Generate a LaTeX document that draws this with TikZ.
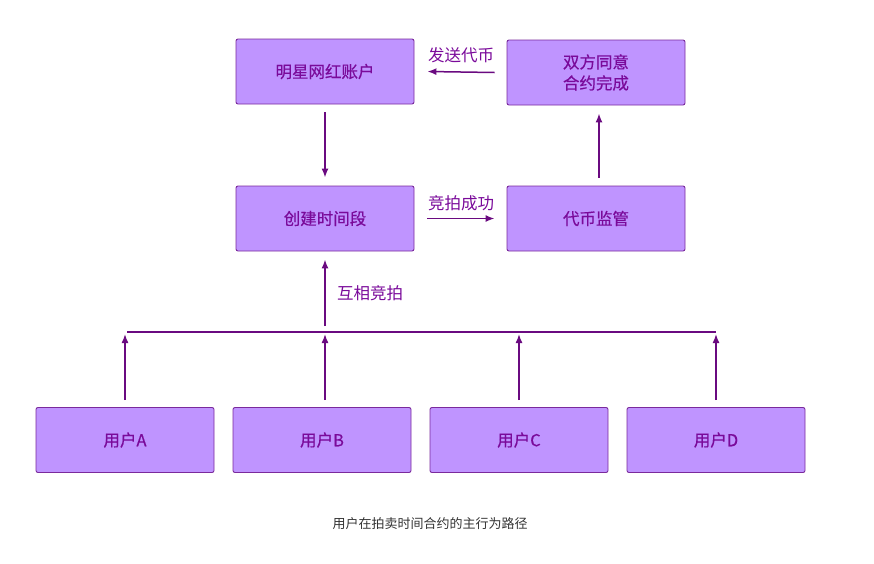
\documentclass[tikz,border=0pt]{standalone}
\usepackage{fontspec}
\setmainfont{Noto Sans CJK SC}
\newfontfamily\boxfont{Noto Sans CJK SC}[FakeBold=0.5]
\usetikzlibrary{arrows.meta}
\definecolor{boxfill}{HTML}{BF94FF}
\definecolor{boxdraw}{HTML}{7A2A9C}
\definecolor{txt}{HTML}{7A0A9A}
\definecolor{ln}{HTML}{6A0A80}
\definecolor{cap}{HTML}{333333}
\begin{document}
\begin{tikzpicture}[x=1pt,y=-1pt,
  box/.style={draw=boxdraw,fill=boxfill,line width=0.9pt,rounded corners=2pt,
    minimum width=178pt,minimum height=65pt,inner sep=0pt,font=\boxfont\fontsize{16.5}{21}\selectfont,
    text=txt,align=center},
  conn/.style={draw=ln,line width=1.5pt,-{Latex[length=9pt,width=7pt]}},
  lab/.style={text=txt,font=\fontsize{16.5}{20}\selectfont,inner sep=0pt}]
\useasboundingbox (0,0) rectangle (874,563);
\node[box] (star) at (325,71.5) {明星网红账户};
\node[box] (agree) at (596,72.5) {双方同意\\合约完成};
\node[box] (create) at (325,218.5) {创建时间段};
\node[box] (escrow) at (596,218.5) {代币监管};
\node[box] (ua) at (125,440) {用户A};
\node[box] (ub) at (322,440) {用户B};
\node[box] (uc) at (519,440) {用户C};
\node[box] (ud) at (716,440) {用户D};
% top row arrows
\draw[conn] ([xshift=-12pt]agree.west) -- ([xshift=13pt]star.east);
\node[lab] (l1) at (461,55) {发送代币};
\draw[conn] ([xshift=13pt]create.east) -- ([xshift=-12pt]escrow.west);
\node[lab] (l2) at (461,203) {竞拍成功};
\draw[conn] ([yshift=-8pt]star.south) -- ([yshift=8pt]create.north);
\draw[conn] ([xshift=3pt,yshift=8pt]escrow.north) -- ([xshift=3pt,yshift=-8pt]agree.south);
% bus
\coordinate (busL) at (127,332);
\coordinate (busR) at (716,332);
\coordinate (busM) at (325,326);
\draw[draw=ln,line width=1.5pt] (busL) -- (busR);
\draw[conn] (busM) -- ([yshift=-8pt]create.south);
\node[lab] (l3) at (370,293) {互相竞拍};
\coordinate (ta) at (125,334);
\coordinate (tb) at (325,334);
\coordinate (tc) at (519,334);
\coordinate (td) at (716,334);
\draw[conn] ([yshift=7pt]ua.north) -- (ta);
\draw[conn] ([xshift=3pt,yshift=7pt]ub.north) -- (tb);
\draw[conn] ([yshift=7pt]uc.north) -- (tc);
\draw[conn] ([yshift=7pt]ud.north) -- (td);
\node[text=cap,font=\fontsize{13}{16}\selectfont,inner sep=0pt] (caption) at (430,524) {用户在拍卖时间合约的主行为路径};
\end{tikzpicture}
\end{document}
